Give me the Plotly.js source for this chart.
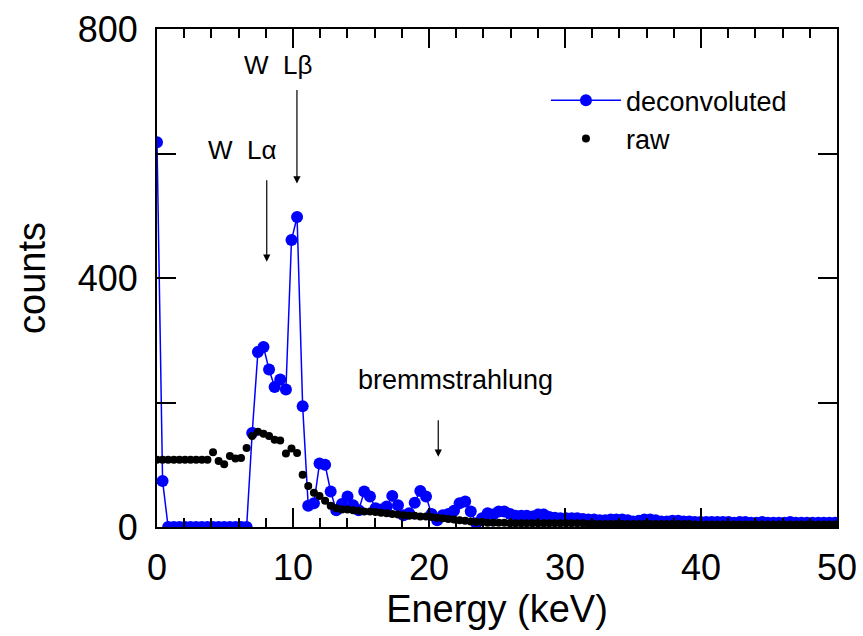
<!DOCTYPE html>
<html>
<head>
<meta charset="utf-8">
<script src="https://cdn.plot.ly/plotly-3.0.1.min.js"></script>
<style>
html,body{margin:0;padding:0;background:#fff;}
#chart{width:863px;height:636px;}
</style>
</head>
<body>
<div id="chart"></div>
<script>
// Energy channels (keV)
const energy = [
 0.00,0.41,0.82,1.24,1.65,2.06,2.47,2.88,3.30,3.71,
 4.12,4.53,4.94,5.36,5.77,6.18,6.59,7.00,7.42,7.83,
 8.24,8.65,9.06,9.48,9.89,10.30,10.71,11.12,11.54,11.95,
 12.36,12.77,13.18,13.60,14.01,14.42,14.83,15.24,15.66,16.07,
 16.48,16.89,17.30,17.72,18.13,18.54,18.95,19.36,19.78,20.19,
 20.60,21.01,21.42,21.84,22.25,22.66,23.07,23.48,23.90,24.31,
 24.72,25.13,25.54,25.96,26.37,26.78,27.19,27.60,28.02,28.43,
 28.84,29.25,29.66,30.08,30.49,30.90,31.31,31.72,32.14,32.55,
 32.96,33.37,33.78,34.20,34.61,35.02,35.43,35.84,36.26,36.67,
 37.08,37.49,37.90,38.32,38.73,39.14,39.55,39.96,40.38,40.79,
 41.20,41.61,42.02,42.44,42.85,43.26,43.67,44.08,44.50,44.91,
 45.32,45.73,46.14,46.56,46.97,47.38,47.79,48.20,48.62,49.03,
 49.44,49.85
];
// Deconvoluted spectrum (counts)
const deconvoluted = [
 618,74,0,0,0,0,0,0,0,0,
 0,0,0,0,0,0,0,151,281,289,
 253,225,237,221,461,498,194,34,38,102,
 100,57,27,37,49,35,27,57,49,30,
 28,33,50,35,19,22,39,58,49,21,
 11,19,21,26,38,41,25,6,14,22,
 20,25,25,21,18,18,18,17,20,20,
 16,15,14,14,14,14,13,12,12,11,
 11,12,12,12,11,9,10,12,12,11,
 9,9,10,10,9,9,8,8,8,8,
 8,8,8,7,8,8,7,7,8,7,
 7,7,7,8,7,7,7,7,7,7,
 7,7
];
// Raw spectrum (counts)
const raw = [
 108,108,108,108,108,108,108,108,108,108,
 120,106,101,114,110,111,127,146,153,150,
 146,140,139,118,126,119,84,66,55,50,
 42,34,30,28,28,27,26,25,25,24,
 23,22,21,20,19,18,18,17,17,16,
 15,14,13,12,11,10,9,8,8,7,
 7,7,7,6,6,6,6,6,6,6,
 6,6,6,6,6,6,6,5,5,5,
 5,5,5,5,5,5,5,5,5,5,
 5,5,5,5,5,5,4,4,4,4,
 4,4,4,4,4,4,4,4,4,4,
 4,4,4,4,4,4,4,4,4,4,
 4,4
];
const xRange = [0, 50], yRange = [0, 800];
const xTickStep = 10, xMinorStep = 2;
const yTickStep = 400, yMinorStep = 200;

const FONT = 'Liberation Sans, Arial, sans-serif';

const traces = [
 {
  x: energy, y: deconvoluted, name: 'deconvoluted', type: 'scatter', mode: 'lines+markers',
  xaxis: 'x', yaxis: 'y',
  line: {color: '#0000ff', width: 1.5},
  marker: {color: '#0000ff', size: 12}
 },
 {
  x: energy, y: raw, name: 'raw', type: 'scatter', mode: 'markers',
  xaxis: 'x2', yaxis: 'y',
  marker: {color: '#000000', size: 8}
 }
];

const layout = {
  width: 863, height: 636,
  margin: {l: 157, r: 26, t: 29, b: 109},
  paper_bgcolor: '#fff', plot_bgcolor: '#fff',
  font: {family: FONT, color: '#000'},
  showlegend: true,
  legend: {
    x: 0.572, y: 0.905, xanchor: 'left', yanchor: 'top',
    traceorder: 'normal',
    font: {family: FONT, size: 27, color: '#000'},
    bgcolor: 'rgba(0,0,0,0)', borderwidth: 0, itemwidth: 70
  },
  xaxis: {
    range: xRange, dtick: xTickStep,
    showline: true, mirror: 'ticks', linewidth: 2, linecolor: '#000',
    ticks: 'inside', ticklen: 19, tickwidth: 2, tickcolor: '#000',
    showgrid: false, zeroline: false,
    tickfont: {family: FONT, size: 36, color: '#000'},
    ticklabelstandoff: 8,
    title: {text: 'Energy (keV)', font: {family: FONT, size: 38, color: '#000'}, standoff: 2}
  },
  xaxis2: {
    range: xRange, dtick: xMinorStep, overlaying: 'x', anchor: 'y', side: 'bottom',
    showline: false, mirror: 'ticks',
    ticks: 'inside', ticklen: 9, tickwidth: 2, tickcolor: '#000',
    showticklabels: false, showgrid: false, zeroline: false
  },
  yaxis: {
    range: yRange, dtick: yTickStep,
    showline: true, mirror: 'allticks', linewidth: 2, linecolor: '#000',
    ticks: 'inside', ticklen: 19, tickwidth: 2, tickcolor: '#000',
    showgrid: false, zeroline: false,
    tickfont: {family: FONT, size: 36, color: '#000'},
    ticksuffix: '\u00a0',
    minor: {tickmode: 'linear', tick0: 0, dtick: yMinorStep, ticks: 'inside', ticklen: 11, tickcolor: '#000', tickwidth: 2, showgrid: false},
    title: {text: 'counts', font: {family: FONT, size: 38, color: '#000'}, standoff: 20}
  },
  annotations: [
    {x: 8.86, y: 742, xref: 'x', yref: 'y', text: 'W  L\u03b2', showarrow: false,
     font: {family: FONT, size: 26, color: '#000'}},
    {x: 6.23, y: 605, xref: 'x', yref: 'y', text: 'W  L\u03b1', showarrow: false,
     font: {family: FONT, size: 26, color: '#000'}},
    {x: 21.98, y: 236, xref: 'x', yref: 'y', text: 'bremmstrahlung', showarrow: false,
     font: {family: FONT, size: 27, color: '#000'}},
    {x: 10.29, y: 552, xref: 'x', yref: 'y', text: '', showarrow: true,
     ax: 0, ay: -95, arrowhead: 2, arrowsize: 1.2, arrowwidth: 1.2, arrowcolor: '#000'},
    {x: 8.07, y: 426, xref: 'x', yref: 'y', text: '', showarrow: true,
     ax: 0, ay: -83, arrowhead: 2, arrowsize: 1.2, arrowwidth: 1.2, arrowcolor: '#000'},
    {x: 20.68, y: 113, xref: 'x', yref: 'y', text: '', showarrow: true,
     ax: 0, ay: -38, arrowhead: 2, arrowsize: 1.2, arrowwidth: 1.2, arrowcolor: '#000'}
  ]
};

Plotly.newPlot('chart', traces, layout, {staticPlot: true, displayModeBar: false});
</script>
</body>
</html>
